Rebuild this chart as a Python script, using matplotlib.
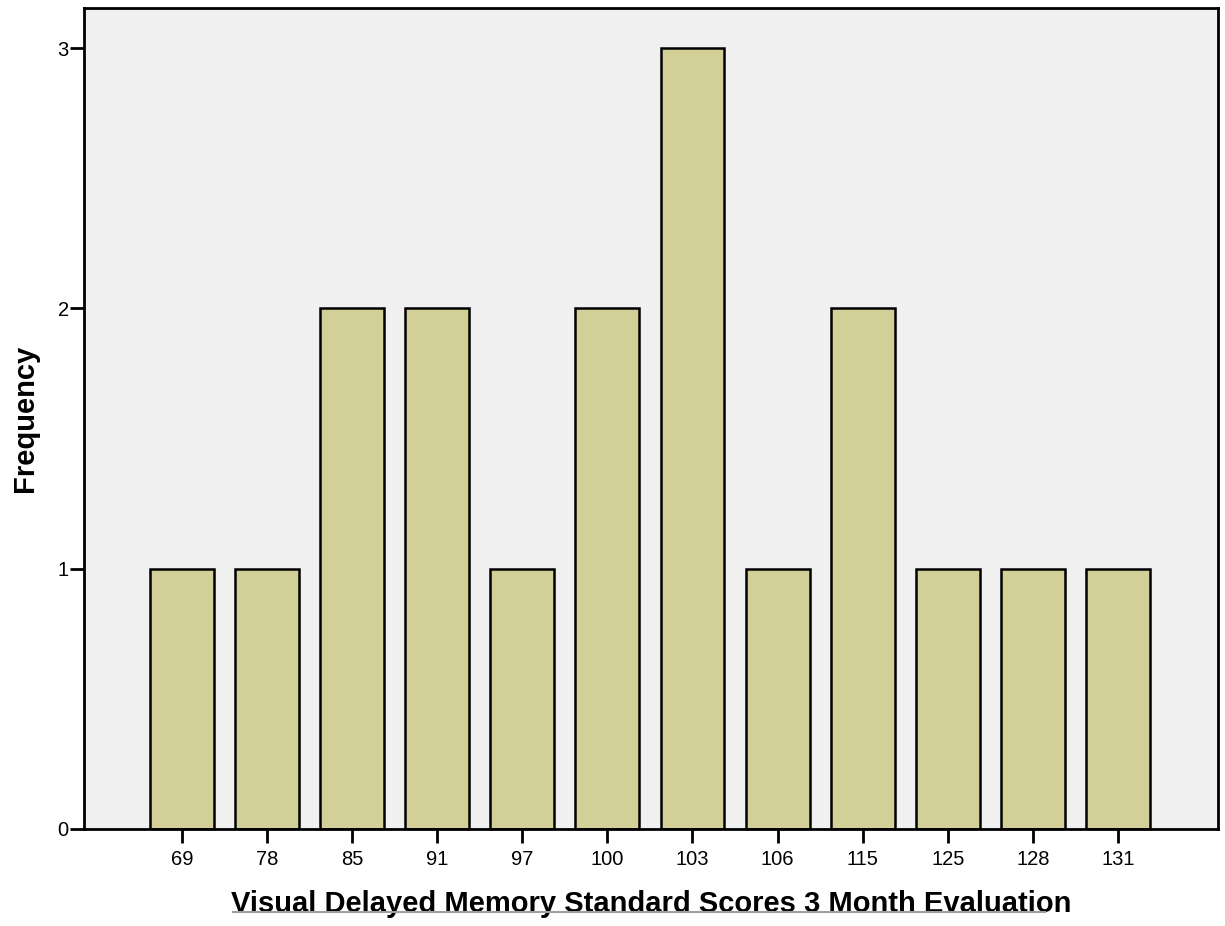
import matplotlib
matplotlib.use("Agg")
import matplotlib.pyplot as plt
from matplotlib.lines import Line2D

# scores and how often each one came up
scores = ["69", "78", "85", "91", "97", "100", "103", "106", "115", "125", "128", "131"]
freq = [1, 1, 2, 2, 1, 2, 3, 1, 2, 1, 1, 1]
yticks = [0, 1, 2, 3]

plt.rcParams["font.family"] = ["Liberation Sans", "DejaVu Sans"]

fig = plt.figure(figsize=(12.25, 9.26), dpi=100)
ax = fig.add_axes([84 / 1225, 97 / 926, 1134 / 1225, 821 / 926])
ax.set_facecolor("#f0f0f0")

pos = list(range(len(scores)))
ax.bar(pos, freq, width=0.75, color="#d3cf98", edgecolor="black", linewidth=1.8, zorder=2)

ax.set_xlim(-1.15, 12.175)
ax.set_ylim(0, 3.154)
ax.set_xticks(pos)
ax.set_xticklabels(scores)
ax.set_yticks(yticks)
ax.tick_params(axis="both", direction="out", length=10, width=2, labelsize=14.5, pad=5)
ax.tick_params(axis="y", pad=1)

for s in ax.spines.values():
    s.set_linewidth(2)

ax.set_xlabel("Visual Delayed Memory Standard Scores 3 Month Evaluation",
              fontsize=21, fontweight="bold", labelpad=15)
ax.set_ylabel("Frequency", fontsize=21, fontweight="bold", labelpad=13)

# the thin grey rule under the x title
fig.add_artist(Line2D([233 / 1225, 1045 / 1225], [14 / 926, 14 / 926],
                      color="#a0a0a0", linewidth=1.5))

fig.savefig("out.png", dpi=100)
